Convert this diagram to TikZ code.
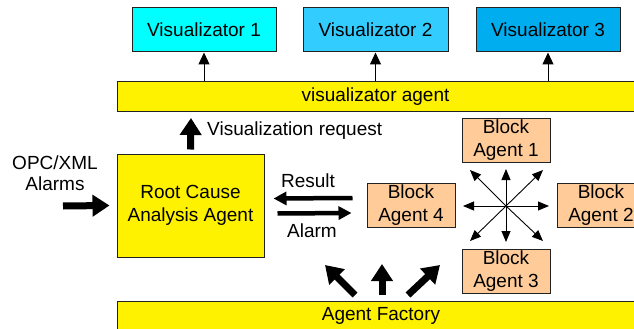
\documentclass[tikz,border=0pt]{standalone}
\usepackage{fontspec}
\setmainfont{Liberation Sans}
\usetikzlibrary{arrows.meta}
\definecolor{vone}{HTML}{00FFFF}
\definecolor{vtwo}{HTML}{33CCFF}
\definecolor{vthree}{HTML}{00AEEF}
\definecolor{peach}{HTML}{FFCC99}
\definecolor{edge}{HTML}{222222}
\begin{document}
\begin{tikzpicture}[x=1pt,y=-1pt,
 box/.style={draw=edge, line width=1pt, inner sep=0pt, align=center, font=\fontsize{19}{22.5}\selectfont},
 lbl/.style={font=\fontsize{19}{21.5}\selectfont, inner sep=0pt, align=center},
 thinarrow/.style={line width=1pt, -{Triangle[width=11pt,length=12pt]}},
 stararrow/.style={line width=0.9pt, -{Triangle[width=9pt,length=11pt]}},
 fatarrow/.style={line width=7pt, -{Triangle[width=21pt,length=17pt]}},
 midarrow/.style={line width=4.5pt, -{Triangle[width=13pt,length=13pt]}}]
\useasboundingbox (0,0) rectangle (634,329);
% visualizators
\node[box, fill=vone, minimum width=144, minimum height=44] (v1) at (204,30) {Visualizator 1};
\node[box, fill=vtwo, minimum width=145, minimum height=44] (v2) at (375.5,30) {Visualizator 2};
\node[box, fill=vthree, minimum width=144, minimum height=44] (v3) at (548,30) {Visualizator 3};
% visualizator agent bar
\node[box, fill=yellow, minimum width=530, minimum height=29.5, anchor=north west] (va) at (117,81) {};
\node[lbl, anchor=base] (vatext) at (375.5,101.5) {visualizator agent};
\draw[thinarrow] (v1.south |- va.north) -- (v1.south);
\draw[thinarrow] (v2.south |- va.north) -- (v2.south);
\draw[thinarrow] (v3.south |- va.north) -- (v3.south);
% root cause
\node[box, fill=yellow, minimum width=147, minimum height=103] (rca) at (190.5,205.5) {Root Cause\\Analysis Agent};
\coordinate (vr) at (191,118);
\draw[fatarrow] ([yshift=4pt]rca.north) -- (vr);
\node[lbl, anchor=base west] (vrtext) at (207,135) {Visualization request};
% OPC input
\node[lbl] (opc) at (55,173) {OPC/XML\\Alarms};
\coordinate (in) at (63,206);
\draw[fatarrow] (in) -- ([xshift=-7pt]rca.west);
% block agents
\node[box, fill=peach, minimum width=88, minimum height=44] (b4) at (411,205) {Block\\Agent 4};
\node[box, fill=peach, minimum width=88, minimum height=44] (b1) at (506,140) {Block\\Agent 1};
\node[box, fill=peach, minimum width=88, minimum height=44] (b3) at (506,271) {Block\\Agent 3};
\node[box, fill=peach, minimum width=88, minimum height=44] (b2) at (601,205) {Block\\Agent 2};
% result / alarm
\draw[midarrow] ([xshift=-14pt,yshift=7pt]b4.west) -- ([xshift=9pt,yshift=7pt]rca.east);
\draw[midarrow] ([xshift=13pt,yshift=-8pt]rca.east) -- ([xshift=-15pt,yshift=-8pt]b4.west);
\node[lbl, anchor=base] (res) at (308,187) {Result};
\node[lbl, anchor=base] (alm) at (312,237) {Alarm};
% star
\coordinate (hub) at (506,206);
\coordinate (s1) at (506,169);
\coordinate (s2) at (506,242);
\coordinate (s3) at (463,206);
\coordinate (s4) at (549,206);
\coordinate (s5) at (470,170);
\coordinate (s6) at (543,170);
\coordinate (s7) at (470,241);
\coordinate (s8) at (543,241);
\foreach \s in {s1,s2,s3,s4,s5,s6,s7,s8} \draw[stararrow] (hub) -- (\s);
% agent factory
\node[box, fill=yellow, minimum width=530, minimum height=40, anchor=north west] (af) at (117,301) {};
\node[lbl, anchor=base] (aftext) at (381,320) {Agent Factory};
\coordinate (f1) at (355,295);
\coordinate (g1) at (325,265);
\coordinate (f2) at (382,295);
\coordinate (g2) at (382,264);
\coordinate (f3) at (408,295);
\coordinate (g3) at (440,265);
\draw[fatarrow] (f1) -- (g1);
\draw[fatarrow] (f2) -- (g2);
\draw[fatarrow] (f3) -- (g3);
\end{tikzpicture}
\end{document}
